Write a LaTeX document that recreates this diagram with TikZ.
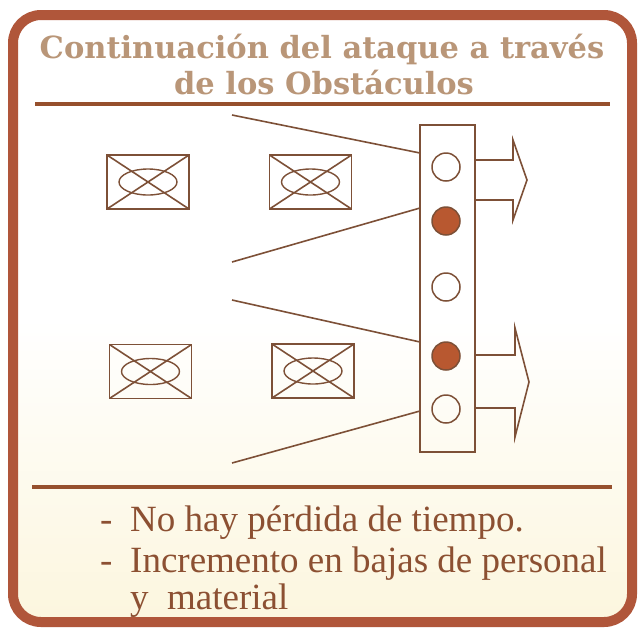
\documentclass[tikz,border=0pt]{standalone}
\usepackage{fontspec}
\setmainfont{Liberation Serif}
\newfontfamily\titlefont{DejaVu Serif}
\definecolor{framecol}{RGB}{176,86,58}
\definecolor{titlecol}{RGB}{185,150,120}
\definecolor{linecol}{RGB}{125,80,55}
\definecolor{fillcol}{RGB}{184,88,48}
\definecolor{textcol}{RGB}{140,80,50}
\definecolor{rulecol}{RGB}{150,80,45}
\definecolor{creamcol}{RGB}{252,246,222}
\begin{document}
\begin{tikzpicture}[x=1pt,y=-1pt,
  obst/.style={draw=linecol, line width=1.6pt, minimum width=82pt, minimum height=54pt, inner sep=0pt,
    path picture={\draw[linecol,line width=1.6pt]
      (path picture bounding box.north west)--(path picture bounding box.south east)
      (path picture bounding box.north east)--(path picture bounding box.south west);
      \draw[linecol,line width=1.4pt] (path picture bounding box.center) ellipse [x radius=29pt, y radius=13pt];}},
  column/.style={draw=linecol, line width=1.6pt, minimum width=55pt, minimum height=327pt, inner sep=0pt},
  soldier/.style={circle, draw=linecol, line width=1.5pt, minimum size=28pt, inner sep=0pt},
  soldierhit/.style={soldier, fill=fillcol},
  link/.style={linecol, line width=1.6pt},
  titletext/.style={text=titlecol, font=\titlefont\bfseries\fontsize{30.5}{31}\selectfont, anchor=base, inner sep=0pt},
  bodytext/.style={text=textcol, font=\fontsize{37}{38}\selectfont, anchor=base west, inner sep=0pt},
  rule/.style={rulecol, line width=4pt}
]
\useasboundingbox (0,0) rectangle (642,633);
\fill[white] (0,0) rectangle (642,633);
% frame
\shade[top color=white, bottom color=creamcol, middle color=white, rounded corners=28pt] (13,15) rectangle (632,622);
\draw[framecol, line width=10pt, rounded corners=28pt] (13,15) rectangle (632,622);

% title
\node[titletext] (t1) at (322,58) {Continuación del ataque a través};
\node[titletext] (t2) at (324,94) {de los Obstáculos};
\coordinate (r1a) at (35,104); \coordinate (r1b) at (610,104);
\draw[rule] (r1a) -- (r1b);

% obstacles
\node[obst] (o1) at (148,182) {};
\node[obst] (o2) at (310.5,182) {};
\node[obst] (o3) at (150.5,371.5) {};
\node[obst] (o4) at (313,371) {};

% column
\node[column] (col) at (447.5,288.5) {};
\node[soldier] (s1) at (446,167) {};
\node[soldierhit] (s2) at (446,221) {};
\node[soldier] (s3) at (446,287) {};
\node[soldierhit] (s4) at (446,356) {};
\node[soldier] (s5) at (446,409) {};

% approach lines
\coordinate (l1) at (232,115); \coordinate (c1) at (420,153);
\coordinate (l2) at (232,262); \coordinate (c2) at (420,208);
\coordinate (l3) at (232,300); \coordinate (c3) at (420,342);
\coordinate (l4) at (232,463); \coordinate (c4) at (420,411);
\draw[link] (l1) -- (c1);
\draw[link] (l2) -- (c2);
\draw[link] (l3) -- (c3);
\draw[link] (l4) -- (c4);

% arrows
\coordinate (a1) at (475,160);
\coordinate (a2) at (475,355);
\draw[link, line join=miter] (a1) -- ++(38,0) -- ++(0,-20) -- ++(14,40) -- ++(-14,40) -- ++(0,-20) -- ++(-38,0);
\draw[link, line join=miter] (a2) -- ++(40,0) -- ++(0,-27) -- ++(14,54) -- ++(-14,55) -- ++(0,-29) -- ++(-40,0);

% bottom
\coordinate (r2a) at (32,487); \coordinate (r2b) at (612,487);
\draw[rule] (r2a) -- (r2b);
\node[bodytext] (d1) at (100,531) {-};
\node[bodytext] (b1) at (130,531) {No hay pérdida de tiempo.};
\node[bodytext] (d2) at (100,572) {-};
\node[bodytext] (b2) at (130,572) {Incremento en bajas de personal};
\node[bodytext] (b3) at (130,609) {y\ \ material};
\end{tikzpicture}
\end{document}
